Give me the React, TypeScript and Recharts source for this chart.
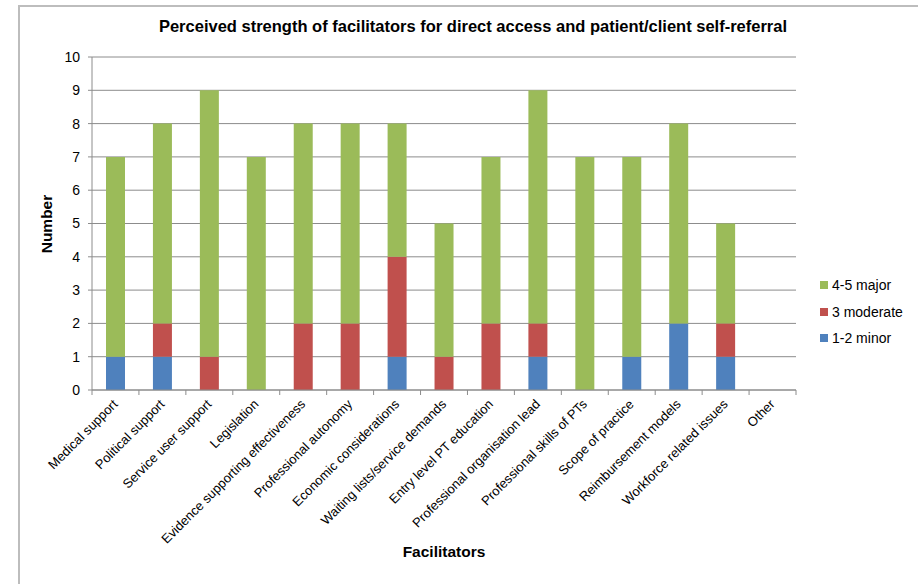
import React from 'react';
import { BarChart, Bar, XAxis, YAxis, CartesianGrid } from 'recharts';

const categories = [
  'Medical support',
  'Political support',
  'Service user support',
  'Legislation',
  'Evidence supporting effectiveness',
  'Professional autonomy',
  'Economic considerations',
  'Waiting lists/service demands',
  'Entry level PT education',
  'Professional organisation lead',
  'Professional skills of PTs',
  'Scope of practice',
  'Reimbursement models',
  'Workforce related issues',
  'Other',
];
const minor = [1, 1, 0, 0, 0, 0, 1, 0, 0, 1, 0, 1, 2, 1, 0];
const moderate = [0, 1, 1, 0, 2, 2, 3, 1, 2, 1, 0, 0, 0, 1, 0];
const major = [6, 6, 8, 7, 6, 6, 4, 4, 5, 7, 7, 6, 6, 3, 0];
const yTicks = [0, 1, 2, 3, 4, 5, 6, 7, 8, 9, 10];

const seriesInfo = [
  { key: 'major', name: '4-5 major', color: '#9BBB59' },
  { key: 'moderate', name: '3 moderate', color: '#C0504D' },
  { key: 'minor', name: '1-2 minor', color: '#4F81BD' },
];

const data = categories.map((name, i) => ({
  name,
  minor: minor[i],
  moderate: moderate[i],
  major: major[i],
}));

const FONT = 'Arial, "Liberation Sans", sans-serif';
const AXIS = '#8c8c8c';
const PLOT_LEFT = 92;
const PLOT_RIGHT = 796;
const BAND = (PLOT_RIGHT - PLOT_LEFT) / categories.length;

const colorOf = (key: string) => seriesInfo.find(s => s.key === key)!.color;

const CategoryTick = (props: any) => {
  const { x, y, payload, index } = props;
  const half = BAND / 2;
  const tx = x + 3;
  const ty = y + 15;
  return (
    <g>
      <line x1={x + half} y1={y} x2={x + half} y2={y + 5} stroke={AXIS} />
      {index === 0 ? <line x1={x - half} y1={y} x2={x - half} y2={y + 5} stroke={AXIS} /> : null}
      <text
        x={tx}
        y={ty}
        textAnchor="end"
        fontSize={13}
        fill="#000"
        fontFamily={FONT}
        transform={`rotate(-45, ${tx}, ${ty})`}
      >
        {payload.value}
      </text>
    </g>
  );
};

// legend drawn in html so it doesn't eat into the plot area
const LegendBox = () => (
  <div style={{ position: 'absolute', left: 820, top: 272, fontSize: 14, color: '#000' }}>
    {seriesInfo.map(s => (
      <div key={s.key} style={{ display: 'flex', alignItems: 'center', height: 26.5 }}>
        <span style={{ display: 'inline-block', width: 8, height: 8, background: s.color, marginRight: 4 }} />
        <span>{s.name}</span>
      </div>
    ))}
  </div>
);

export default function App() {
  return (
    <div
      style={{
        position: 'absolute',
        left: 0,
        top: 0,
        width: 918,
        height: 584,
        overflow: 'hidden',
        background: '#fff',
        fontFamily: FONT,
      }}
    >
      <div
        style={{
          position: 'absolute',
          left: 18,
          top: 5,
          width: 1000,
          height: 1000,
          border: '2px solid #bdbdbd',
        }}
      />
      <BarChart
        width={918}
        height={584}
        data={data}
        margin={{ top: 57, right: 122, left: 62, bottom: 44 }}
        barSize={19}
      >
        <CartesianGrid vertical={false} stroke={AXIS} />
        <XAxis
          dataKey="name"
          interval={0}
          height={150}
          tickLine={false}
          tickSize={0}
          tickMargin={0}
          stroke={AXIS}
          tick={<CategoryTick />}
        />
        <YAxis
          width={30}
          domain={[0, 10]}
          ticks={yTicks}
          interval={0}
          stroke={AXIS}
          tickSize={4}
          tickMargin={8}
          tick={{ fontSize: 14, fill: '#000', fontFamily: FONT }}
        />
        <Bar dataKey="minor" name="1-2 minor" stackId="a" fill={colorOf('minor')} isAnimationActive={false} />
        <Bar dataKey="moderate" name="3 moderate" stackId="a" fill={colorOf('moderate')} isAnimationActive={false} />
        <Bar dataKey="major" name="4-5 major" stackId="a" fill={colorOf('major')} isAnimationActive={false} />
      </BarChart>
      <LegendBox />
      <div
        style={{
          position: 'absolute',
          left: 0,
          width: 946,
          top: 17,
          textAlign: 'center',
          fontWeight: 'bold',
          fontSize: 16.5,
          color: '#000',
        }}
      >
        Perceived strength of facilitators for direct access and patient/client self-referral
      </div>
      <div
        style={{
          position: 'absolute',
          left: 344,
          width: 200,
          top: 543,
          textAlign: 'center',
          fontWeight: 'bold',
          fontSize: 15.5,
          color: '#000',
        }}
      >
        Facilitators
      </div>
      <div
        style={{
          position: 'absolute',
          left: 47 - 50,
          top: 224 - 10,
          width: 100,
          height: 20,
          lineHeight: '20px',
          textAlign: 'center',
          fontWeight: 'bold',
          fontSize: 15.5,
          color: '#000',
          transform: 'rotate(-90deg)',
        }}
      >
        Number
      </div>
    </div>
  );
}
